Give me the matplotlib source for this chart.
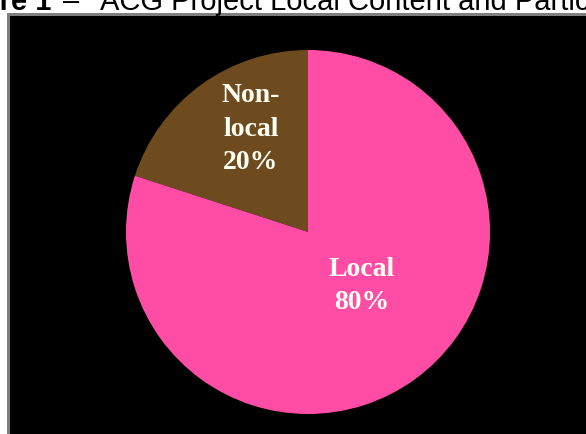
import matplotlib.pyplot as plt
from matplotlib.patches import Rectangle

# 데이터
labels = ['Non-\nlocal', 'Local']
shares = [20, 80]
colors = ['#6E4A1F', '#FF4DA6']

W, H = 586, 434
fig = plt.figure(figsize=(W / 100, H / 100), dpi=100)
fig.patch.set_facecolor('white')

# 검은 배경 + 회색 테두리 (왼쪽/위)
fig.add_artist(Rectangle((10 / W, 0), 1, (H - 16) / H, transform=fig.transFigure,
                         facecolor='black', edgecolor='none', zorder=0))
fig.add_artist(Rectangle((7 / W, 0), 3 / W, (H - 13) / H, transform=fig.transFigure,
                         facecolor='#7f7f7f', edgecolor='none', zorder=0))
fig.add_artist(Rectangle((7 / W, (H - 16) / H), 1, 3 / H, transform=fig.transFigure,
                         facecolor='#7f7f7f', edgecolor='none', zorder=0))

# 제목 (위쪽이 잘린 상태)
base_y = 1 - 10 / H
fig.text(51 / W, base_y, 'Figure 1', ha='right', va='baseline',
         fontsize=21, fontweight='bold', family='Liberation Sans')
fig.text(71 / W, base_y, '\u2013', ha='center', va='baseline',
         fontsize=21, family='Liberation Sans')
fig.text(100 / W, base_y, 'ACG Project Local Content and Participation',
         ha='left', va='baseline', fontsize=21, family='Liberation Sans')

# 파이차트
cx, cy, r = 308, 232, 182
ax = fig.add_axes([(cx - r) / W, (H - cy - r) / H, 2 * r / W, 2 * r / H])
ax.set_facecolor('none')
wedges, _ = ax.pie(shares, colors=colors, startangle=90, counterclock=True,
                   radius=1, wedgeprops={'linewidth': 0})
ax.set_xlim(-1, 1)
ax.set_ylim(-1, 1)
ax.axis('off')

# 라벨
text_pos = [(251, 129), (362, 286)]
for lab, val, (px, py) in zip(labels, shares, text_pos):
    ax.text((px - cx) / r, (cy - py) / r, f'{lab}\n{val}%', ha='center', va='center',
            color='#FFFFF4', fontsize=20, fontweight='bold', family='Liberation Serif',
            linespacing=1.45)

fig.savefig('out.png', dpi=100)
